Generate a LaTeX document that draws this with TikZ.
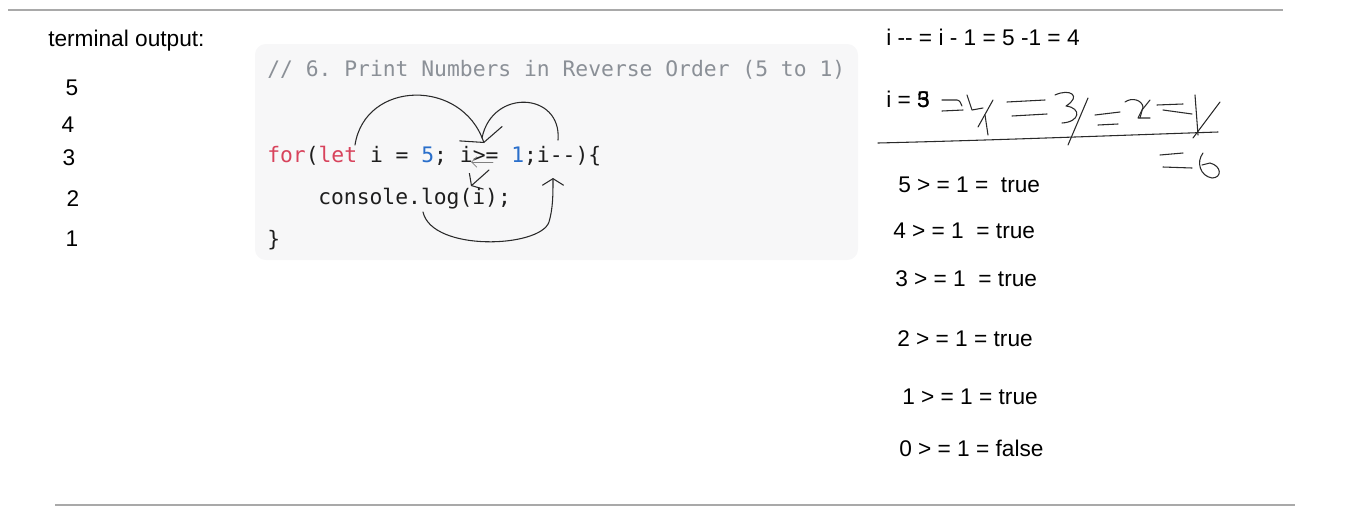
\documentclass[tikz,border=0pt]{standalone}
\usepackage{fontspec}
\setmainfont{Liberation Sans}
\setmonofont{DejaVu Sans Mono}
\usetikzlibrary{positioning,arrows.meta}
\definecolor{rulegray}{HTML}{A9A9A9}
\definecolor{codebg}{HTML}{F7F7F8}
\definecolor{cmtgray}{HTML}{8B9097}
\definecolor{kwred}{HTML}{D8435C}
\definecolor{numblue}{HTML}{2A6FCB}
\definecolor{codeink}{HTML}{1E1E1E}
\definecolor{pen}{HTML}{2A2A2A}

\begin{document}
\begin{tikzpicture}[
            x=0.75pt, y=-0.75pt,
            note/.style={anchor=base west, inner sep=0pt, font=\fontsize{17}{20}\selectfont},
            outnum/.style={anchor=base, inner sep=0pt, font=\fontsize{17}{20}\selectfont},
            code/.style={anchor=base west, inner sep=0pt, text=codeink, font=\ttfamily\fontsize{16}{19}\selectfont},
            ink/.style={pen, line width=0.8pt, line cap=round, line join=round},
            arrow/.style={ink, -{Straight Barb[length=5pt,width=16pt]}},
            widearrow/.style={ink, -{Straight Barb[length=7pt,width=34pt]}}
        ]
        \useasboundingbox (0,0) rectangle (1357,511);

        \draw[rulegray, line width=1.5pt] (8,10) -- (1283,10);
        \draw[rulegray, line width=1.5pt] (55,505) -- (1295,505);

        \node[note] (term) at (48,46) {terminal output:};
        \node[outnum] (out5) at (72,95) {5};
        \node[outnum] (out4) at (68,132) {4};
        \node[outnum] (out3) at (69,165) {3};
        \node[outnum] (out2) at (73,206) {2};
        \node[outnum] (out1) at (72,246) {1};

        \fill[codebg, rounded corners=8pt] (255,44) rectangle (858,260);
        \node[code, text=cmtgray] (comment) at (267,76) {// 6. Print Numbers in Reverse Order (5 to 1)};
        \node[code] (forline) at (267,162) {\textcolor{kwred}{for}(\textcolor{kwred}{let} i = \textcolor{numblue}{5}; i>= \textcolor{numblue}{1};i--)\{};
        \node[code] (body) at (318,204) {console.log(i);};
        \node[code] (close) at (267,246) {\}};

        \coordinate (letend) at (355,145);
        \coordinate (cond) at (484,143);
        \coordinate (decr) at (558,140);
        \coordinate (gtback) at (493,162);
        \coordinate (gtfront) at (471,162);
        \coordinate (condlow) at (489,170);
        \coordinate (logarg) at (471,186);
        \coordinate (logstart) at (423,212);
        \coordinate (decrlow) at (553,178);

        \draw[widearrow] (letend) .. controls (365,80) and (462,78) .. (cond);
        \draw[ink] (decr) .. controls (562,92) and (492,88) .. (482,138);
        \draw[ink, gray, line width=0.6pt, -{Straight Barb[length=4pt,width=8pt]}] (gtback) -- (gtfront);
        \draw[arrow] (condlow) -- (logarg);
        \draw[arrow] (logstart) .. controls (432,252) and (540,248) .. (549,222) .. controls (553,208) and (553,195) .. (decrlow);

        \node[note] (decstep) at (886,45) {i -{}- = i - 1 = 5 -1 = 4};
        \node[note] (ivalue) at (886,107) {i = 5};
        \node[note, anchor=base east] (ivalover) at (ivalue.base east) {3};

        \draw[ink] (942,100) -- (957,100) .. controls (960,100) and (961,104) .. (962,106);
        \draw[ink] (942,111) -- (963,110);
        \draw[ink] (967,95) -- (972,110) -- (983,108);
        \draw[ink] (993,100) -- (978,127);
        \draw[ink] (985,115) -- (988,135);
        \draw[ink] (1007,102) -- (1045,100);
        \draw[ink] (1012,116) -- (1047,114);
        \draw[ink] (1055,95) .. controls (1070,88) and (1082,96) .. (1066,106) .. controls (1082,108) and (1080,122) .. (1062,123);
        \draw[ink] (1088,98) -- (1068,145);
        \draw[ink] (1095,115) -- (1120,112);
        \draw[ink] (1098,125) -- (1118,124);
        \draw[ink] (1125,102) .. controls (1132,97) and (1142,100) .. (1143,107) -- (1140,118);
        \draw[ink] (1150,100) -- (1142,110) -- (1138,118) -- (1150,118);
        \draw[ink] (1157,105) -- (1183,104);
        \draw[ink] (1163,110) -- (1192,114);
        \draw[ink] (1195,95) -- (1198,135);
        \draw[ink] (1220,102) -- (1193,138);
        \draw[ink] (878,143) .. controls (1000,140) and (1100,136) .. (1218,132);
        \draw[ink] (1160,155) -- (1183,153);
        \draw[ink] (1163,167) -- (1192,168);
        \draw[ink] (1203,153) .. controls (1196,162) and (1200,176) .. (1212,178) .. controls (1222,178) and (1222,166) .. (1210,163) -- (1202,165);

        \node[note] (chk5) at (898,192) {5 > = 1 = ~true};
        \node[note] (chk4) at (893,238) {4 > = 1 ~= true};
        \node[note] (chk3) at (895,286) {3 > = 1 ~= true};
        \node[note] (chk2) at (897,346) {2 > = 1 = true};
        \node[note] (chk1) at (902,404) {1 > = 1 = true};
        \node[note] (chk0) at (899,456) {0 > = 1 = false};

        \end{tikzpicture}
\end{document}
